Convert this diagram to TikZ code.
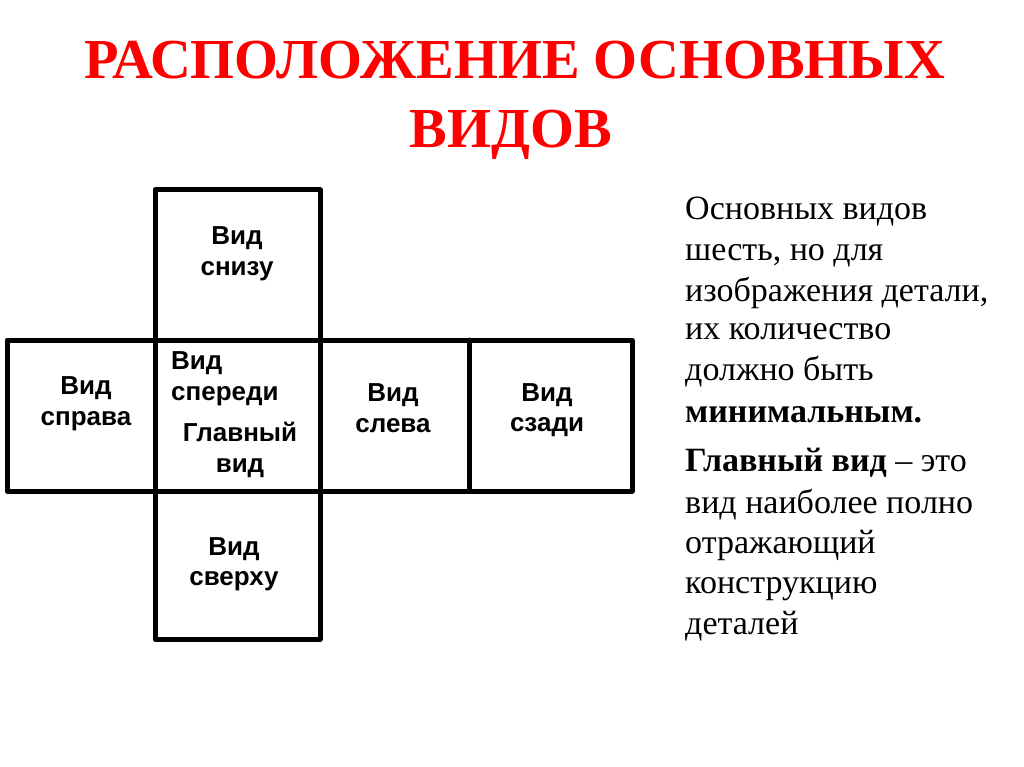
\documentclass[tikz,border=0pt]{standalone}
\usepackage{fontspec}
\setmainfont{Liberation Serif}
\newfontfamily\lsans{Liberation Sans}
\begin{document}
\begin{tikzpicture}[x=1pt,y=-1pt,
  grid/.style={line width=5pt, line cap=round, line join=round},
  lbl/.style={font=\lsans\bfseries\fontsize{26}{30.5}\selectfont, align=center, inner sep=0pt},
  ttl/.style={font=\bfseries\fontsize{56.5}{70}\selectfont, text=red, inner sep=0pt, anchor=base},
  txt/.style={font=\fontsize{34}{40}\selectfont, inner sep=0pt, anchor=base west}]
\useasboundingbox (0,0) rectangle (1024,767);
% title
\node[ttl] (t1) at (515,79) {РАСПОЛОЖЕНИЕ ОСНОВНЫХ};
\node[ttl] (t2) at (511,148) {ВИДОВ};
% grid
\draw[grid] (155,190) rectangle (320,340);
\draw[grid] (7,340) rectangle (632,491);
\draw[grid] (155,491) rectangle (320,639);
\draw[grid] (155,340) -- (155,491);
\draw[grid] (320,340) -- (320,491);
\draw[grid] (469,340) -- (469,491);
% labels
\node[lbl] (l1) at (237,254) {Вид\\снизу};
\node[lbl] (l2) at (86,404) {Вид\\справа};
\node[lbl, align=left, anchor=west] (l3) at (171,379) {Вид\\спереди};
\node[lbl] (l4) at (240,450) {Главный\\вид};
\node[lbl] (l5) at (393,408) {Вид\\слева};
\node[lbl] (l6) at (547,410) {Вид\\сзади};
\node[lbl] (l7) at (234,564) {Вид\\сверху};
% right text
\node[txt] (r1) at (685,219) {Основных видов};
\node[txt] (r2) at (685,260) {шесть, но для};
\node[txt] (r3) at (685,301) {изображения детали,};
\node[txt] (r4) at (685,339) {их количество};
\node[txt] (r5) at (685,380) {должно быть};
\node[txt] (r6) at (685,422) {\textbf{минимальным.}};
\node[txt] (r7) at (685,471) {\textbf{Главный вид} – это};
\node[txt] (r8) at (685,513) {вид наиболее полно};
\node[txt] (r9) at (685,553) {отражающий};
\node[txt] (r10) at (685,593) {конструкцию};
\node[txt] (r11) at (685,634) {деталей};
\end{tikzpicture}
\end{document}
